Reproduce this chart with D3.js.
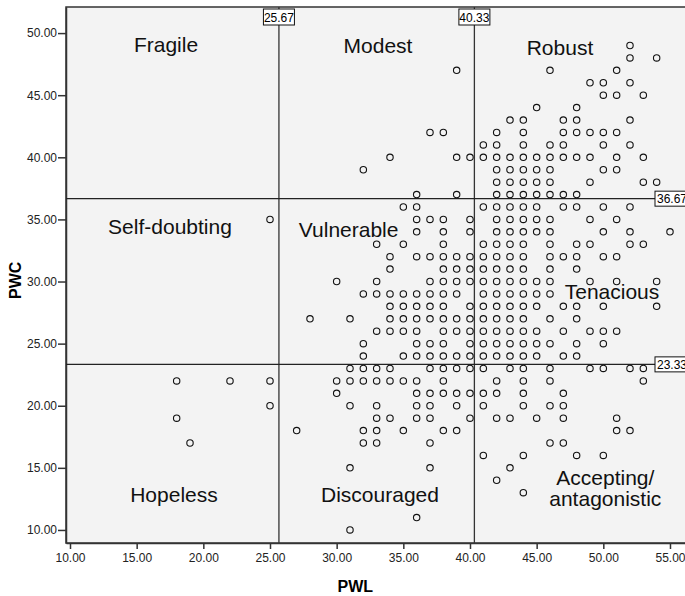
<!DOCTYPE html>
<html>
<head>
<meta charset="utf-8">
<script src="https://cdn.jsdelivr.net/npm/d3@7"></script>
<style>
  body { margin: 0; background: #fff; }
  svg text { font-family: "Liberation Sans", Arial, sans-serif; }
</style>
</head>
<body>
<svg class="scatter" width="685" height="596"></svg>
<script>
// PWC value of each row of points, and the PWL values found on that row
const pwcRows = [49, 48, 47, 46, 45, 44, 43, 42, 41, 40, 39, 38, 37, 36, 35, 34, 33, 32, 31, 30,
                 29, 28, 27, 26, 25, 24, 23, 22, 21, 20, 19, 18, 17, 16, 15, 14, 13, 11, 10];
const pwlByRow = [
  [52],
  [52, 54],
  [39, 46, 51],
  [49, 50, 52],
  [50, 51, 53],
  [45, 48],
  [43, 44, 47, 48, 52],
  [37, 38, 42, 44, 47, 48, 49, 50, 51],
  [41, 42, 44, 46, 47, 50, 52],
  [34, 39, 40, 41, 42, 43, 44, 45, 46, 47, 48, 49, 51, 53],
  [32, 42, 43, 44, 45, 46, 50, 51],
  [42, 43, 44, 45, 46, 49, 53, 54],
  [36, 39, 42, 43, 44, 45, 46, 47, 48],
  [35, 36, 41, 42, 43, 44, 45, 47, 48, 50, 52],
  [25, 36, 37, 38, 40, 42, 43, 44, 45, 46, 49, 51],
  [36, 38, 40, 42, 43, 44, 45, 46, 50, 52, 55],
  [33, 35, 38, 41, 42, 43, 44, 46, 48, 49, 52, 53],
  [34, 36, 37, 38, 39, 40, 41, 42, 43, 44, 46, 47, 48, 50, 51],
  [34, 38, 39, 40, 41, 42, 43, 44, 46, 48],
  [30, 33, 37, 38, 39, 40, 41, 42, 43, 44, 45, 46, 49, 51, 54],
  [32, 33, 34, 35, 36, 37, 38, 39, 41, 42, 43, 44, 45, 46],
  [34, 35, 36, 37, 38, 40, 41, 42, 43, 44, 45, 47, 48, 50, 54],
  [28, 31, 34, 35, 36, 37, 38, 39, 40, 41, 42, 43, 44, 46, 48],
  [33, 34, 35, 36, 38, 39, 40, 41, 42, 43, 44, 45, 47, 49, 50, 51],
  [32, 36, 37, 38, 40, 41, 42, 43, 44, 45, 46, 48, 50],
  [32, 35, 36, 37, 38, 39, 40, 41, 42, 43, 44, 45, 47, 48],
  [31, 32, 33, 34, 37, 38, 39, 40, 41, 43, 44, 46, 49, 50, 52, 53],
  [18, 22, 25, 30, 31, 32, 33, 34, 35, 36, 38, 42, 44, 46, 53],
  [30, 36, 37, 38, 39, 40, 41, 42, 44, 47],
  [25, 31, 33, 36, 37, 39, 41, 44, 46, 47],
  [18, 33, 34, 36, 37, 40, 42, 43, 45, 47, 51],
  [27, 32, 33, 35, 38, 39, 51, 52],
  [19, 32, 33, 37, 46, 47],
  [41, 44, 48, 50],
  [31, 37, 43],
  [42],
  [44],
  [36],
  [31]
];

const xTicks = [10, 15, 20, 25, 30, 35, 40, 45, 50, 55];
const yTicks = [10, 15, 20, 25, 30, 35, 40, 45, 50];

// cut-off lines
const pwlCuts = [25.67, 40.33];
const pwcCuts = [36.67, 23.33];

// group names (one entry per text, lines split by "|"), anchored in data units (PWL, PWC)
const groupNames = ["Fragile", "Modest", "Robust", "Self-doubting", "Vulnerable", "Tenacious",
                    "Hopeless", "Discouraged", "Accepting/|antagonistic"];
const groupPwl = [17.2, 33.1, 46.75, 17.5, 30.9, 50.65, 17.8, 33.25, 50.15];
const groupPwc = [48.5, 48.4, 48.25, 33.8, 33.55, 28.6, 12.25, 12.25, 13.6];

(function scatterIIFE(){
    let svg = d3.select("svg.scatter");
    let left = 66, top = 7, bottom = 543, right = 692;

    let x = d3.scaleLinear().domain([9.7, 56.5]).range([left, left + (56.5 - 9.7) * 13.333]);
    let y = d3.scaleLinear().domain([8.95, 52.1]).range([bottom, top]);

    let points = [];
    pwcRows.forEach(function(c, i) {
        pwlByRow[i].forEach(function(l) { points.push({pwl: l, pwc: c}); });
    });

    // plot background + frame
    svg.append("rect")
        .attr("x", left).attr("y", top)
        .attr("width", right - left).attr("height", bottom - top)
        .style("fill", "#f3f3f3")
        .style("stroke", "#333")
        .style("stroke-width", 1.5);

    //axes
    let xAxis = svg.append("g")
        .attr("transform", "translate(0," + bottom + ")")
        .call(d3.axisBottom(x).tickValues(xTicks).tickFormat(d3.format(".2f")).tickSize(6).tickSizeOuter(0).tickPadding(4));
    let yAxis = svg.append("g")
        .attr("transform", "translate(" + left + ",0)")
        .call(d3.axisLeft(y).tickValues(yTicks).tickFormat(d3.format(".2f")).tickSize(8).tickSizeOuter(0).tickPadding(1));
    [xAxis, yAxis].forEach(function(a) {
        a.select(".domain").style("stroke", "#333").style("stroke-width", 1.5);
        a.selectAll(".tick line").style("stroke", "#333").style("stroke-width", 1.5);
        a.selectAll(".tick text").style("font-size", "12px").style("fill", "#222")
            .style("font-family", "'Liberation Sans', Arial, sans-serif");
    });

    // axis titles
    svg.append("text")
        .attr("x", x(31.4)).attr("y", 592)
        .attr("text-anchor", "middle")
        .style("font-size", "16px").style("font-weight", "bold")
        .text("PWL");
    svg.append("text")
        .attr("transform", "translate(21," + y(30.1) + ") rotate(-90)")
        .attr("text-anchor", "middle")
        .style("font-size", "16px").style("font-weight", "bold")
        .text("PWC");

    // cut-off lines
    svg.selectAll(".vcut").data(pwlCuts).enter().append("line")
        .attr("x1", function(d) { return x(d); }).attr("x2", function(d) { return x(d); })
        .attr("y1", top).attr("y2", bottom)
        .style("stroke", "#333").style("stroke-width", 1.3);
    svg.selectAll(".hcut").data(pwcCuts).enter().append("line")
        .attr("x1", left).attr("x2", right)
        .attr("y1", function(d) { return y(d); }).attr("y2", function(d) { return y(d); })
        .style("stroke", "#222").style("stroke-width", 1.3);

    // group names
    svg.selectAll(".group").data(groupNames).enter().append("text")
        .attr("class", "group")
        .attr("y", function(d, i) { return y(groupPwc[i]); })
        .attr("text-anchor", "middle")
        .style("font-size", "21px").style("fill", "#111")
        .each(function(d, i) {
            let t = d3.select(this);
            d.split("|").forEach(function(line, k) {
                t.append("tspan")
                    .attr("x", x(groupPwl[i]))
                    .attr("dy", k === 0 ? 0 : "0.98em")
                    .text(line);
            });
        });

    // points
    svg.selectAll(".dot").data(points).enter().append("circle")
        .attr("cx", function(d) { return x(d.pwl); })
        .attr("cy", function(d) { return y(d.pwc); })
        .attr("r", 3.2)
        .style("fill", "none")
        .style("stroke", "#111")
        .style("stroke-width", 1.1);

    // value tags on cut-off lines
    let fmt = d3.format(".2f");
    pwlCuts.forEach(function(v) {
        let g = svg.append("g").attr("transform", "translate(" + x(v) + "," + (top + 2) + ")");
        g.append("rect").attr("x", -15.5).attr("y", 0).attr("width", 31).attr("height", 16)
            .style("fill", "#fff").style("stroke", "#111").style("stroke-width", 1);
        g.append("text").attr("x", 0).attr("y", 12.5).attr("text-anchor", "middle")
            .style("font-size", "12px").text(fmt(v));
    });
    pwcCuts.forEach(function(v) {
        let g = svg.append("g").attr("transform", "translate(655," + y(v) + ")");
        g.append("rect").attr("x", 0).attr("y", -7.5).attr("width", 34).attr("height", 15)
            .style("fill", "#fff").style("stroke", "#111").style("stroke-width", 1);
        g.append("text").attr("x", 2).attr("y", 4.5)
            .style("font-size", "12px").text(fmt(v));
    });
})();
</script>
</body>
</html>
